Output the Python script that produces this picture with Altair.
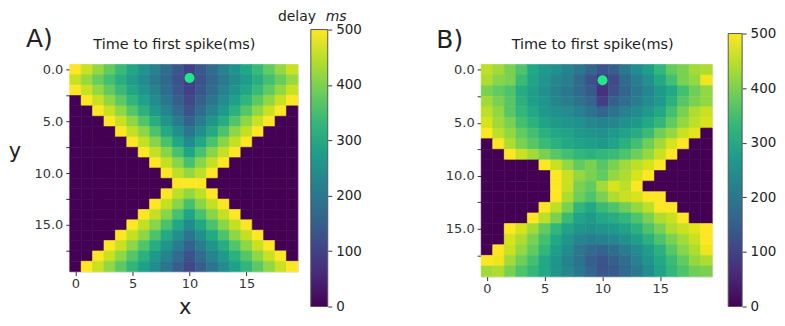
import altair as alt
import pandas as pd

# ---------------- data ----------------
A_rows = [
    [500, 460, 420, 379, 338, 298, 257, 216, 176, 135, 94, 135, 176, 216, 257, 298, 338, 379, 420, 460],
    [460, 423, 386, 349, 312, 275, 238, 201, 164, 127, 90, 127, 164, 201, 238, 275, 312, 349, 386, 423],
    [500, 460, 420, 379, 338, 298, 257, 216, 176, 135, 94, 135, 176, 216, 257, 298, 338, 379, 420, 460],
    [0, 500, 460, 417, 373, 328, 284, 240, 195, 151, 106, 151, 195, 240, 284, 328, 373, 417, 460, 500],
    [0, 0, 500, 460, 416, 368, 319, 271, 223, 175, 127, 175, 223, 271, 319, 368, 416, 460, 500, 0],
    [0, 0, 0, 500, 460, 415, 363, 311, 259, 208, 156, 208, 259, 311, 363, 415, 460, 500, 0, 0],
    [0, 0, 0, 0, 500, 455, 415, 359, 304, 248, 193, 248, 304, 359, 415, 455, 500, 0, 0, 0],
    [0, 0, 0, 0, 0, 500, 455, 410, 356, 297, 238, 297, 356, 410, 455, 500, 0, 0, 0, 0],
    [0, 0, 0, 0, 0, 0, 500, 455, 410, 354, 291, 354, 410, 455, 500, 0, 0, 0, 0, 0],
    [0, 0, 0, 0, 0, 0, 0, 500, 455, 410, 353, 410, 455, 500, 0, 0, 0, 0, 0, 0],
    [0, 0, 0, 0, 0, 0, 0, 0, 500, 450, 420, 450, 500, 0, 0, 0, 0, 0, 0, 0],
    [0, 0, 0, 0, 0, 0, 0, 0, 0, 500, 500, 500, 0, 0, 0, 0, 0, 0, 0, 0],
    [0, 0, 0, 0, 0, 0, 0, 0, 500, 450, 420, 450, 500, 0, 0, 0, 0, 0, 0, 0],
    [0, 0, 0, 0, 0, 0, 0, 500, 455, 410, 353, 410, 455, 500, 0, 0, 0, 0, 0, 0],
    [0, 0, 0, 0, 0, 0, 500, 455, 410, 354, 291, 354, 410, 455, 500, 0, 0, 0, 0, 0],
    [0, 0, 0, 0, 0, 500, 455, 410, 356, 297, 238, 297, 356, 410, 455, 500, 0, 0, 0, 0],
    [0, 0, 0, 0, 500, 455, 415, 359, 304, 248, 193, 248, 304, 359, 415, 455, 500, 0, 0, 0],
    [0, 0, 0, 500, 460, 415, 363, 311, 259, 208, 156, 208, 259, 311, 363, 415, 460, 500, 0, 0],
    [0, 0, 500, 460, 416, 368, 319, 271, 223, 175, 127, 175, 223, 271, 319, 368, 416, 460, 500, 0],
    [0, 500, 460, 417, 373, 328, 284, 240, 195, 151, 106, 151, 195, 240, 284, 328, 373, 417, 460, 500],
]

B_rows = [
    [450, 430, 400, 360, 300, 270, 250, 220, 200, 160, 130, 150, 200, 240, 280, 330, 380, 400, 430, 440],
    [440, 410, 400, 340, 290, 260, 230, 210, 170, 120, 80, 110, 170, 210, 250, 300, 350, 400, 420, 490],
    [400, 380, 360, 310, 280, 250, 220, 200, 170, 140, 70, 120, 160, 200, 230, 270, 300, 350, 390, 420],
    [430, 400, 370, 320, 280, 260, 230, 210, 190, 160, 90, 150, 180, 210, 240, 270, 320, 370, 400, 420],
    [450, 420, 370, 330, 300, 270, 250, 240, 220, 190, 160, 190, 220, 240, 270, 300, 350, 400, 440, 460],
    [470, 430, 400, 350, 320, 290, 270, 260, 250, 230, 220, 230, 250, 270, 300, 330, 380, 420, 450, 470],
    [500, 450, 420, 380, 350, 320, 300, 290, 270, 260, 250, 270, 290, 310, 340, 390, 420, 460, 480, 0],
    [0, 500, 440, 400, 370, 340, 320, 300, 290, 280, 270, 290, 320, 350, 390, 430, 470, 500, 0, 0],
    [0, 0, 500, 460, 430, 400, 370, 350, 330, 320, 330, 340, 360, 390, 420, 460, 500, 0, 0, 0],
    [0, 0, 0, 0, 0, 500, 460, 420, 380, 400, 370, 400, 430, 450, 470, 500, 0, 0, 0, 0],
    [0, 0, 0, 0, 0, 0, 500, 460, 420, 400, 380, 420, 440, 470, 500, 0, 0, 0, 0, 0],
    [0, 0, 0, 0, 0, 0, 500, 460, 400, 380, 430, 470, 450, 500, 0, 0, 0, 0, 0, 0],
    [0, 0, 0, 0, 0, 0, 500, 440, 390, 360, 400, 440, 460, 470, 500, 500, 0, 0, 0, 0],
    [0, 0, 0, 0, 0, 500, 450, 400, 330, 300, 340, 360, 390, 420, 450, 500, 500, 0, 0, 0],
    [0, 0, 0, 0, 500, 450, 400, 340, 290, 270, 300, 310, 330, 360, 400, 440, 460, 500, 0, 0],
    [0, 0, 500, 470, 430, 380, 330, 290, 260, 250, 260, 270, 290, 320, 360, 400, 440, 460, 480, 500],
    [0, 0, 470, 440, 400, 350, 300, 260, 230, 210, 220, 230, 250, 280, 320, 360, 400, 430, 460, 500],
    [0, 500, 460, 420, 380, 330, 280, 240, 200, 170, 160, 180, 210, 240, 280, 320, 370, 410, 440, 490],
    [500, 490, 430, 390, 350, 300, 260, 220, 190, 150, 130, 150, 180, 220, 260, 300, 340, 380, 420, 440],
    [430, 440, 400, 360, 330, 300, 260, 230, 200, 160, 130, 140, 170, 200, 240, 290, 330, 360, 390, 400],
]

x_ticks = [0, 5, 10, 15]
y_ticks = [0, 2.5, 5, 7.5, 10, 12.5, 15, 17.5]
cbar_ticks = [0, 100, 200, 300, 400, 500]
cbar_span = {"lo": [0], "hi": [500]}
dotA = {"x": [10], "y": [0.8]}
dotB = {"x": [10], "y": [1.0]}
panel_title = "Time to first spike(ms)"

viridis_stops = ["#440154", "#482878", "#3e4989", "#31688e", "#26828e",
                 "#1f9e89", "#35b779", "#6ece58", "#b5de2b", "#fde725"]

FONT = "DejaVu Sans"
DOT_COLOR = "#1fe88a"


def to_long(rows):
    recs = []
    for r, row in enumerate(rows):
        for c, v in enumerate(row):
            recs.append({"col": c, "row": r, "v": v})
    return pd.DataFrame(recs)


def label(text, x, y, size, **kw):
    return alt.Chart(pd.DataFrame({"t": [text]})).mark_text(
        fontSize=size, font=FONT, color="#222", **kw
    ).encode(text="t:N", x=alt.value(x), y=alt.value(y))


def panel(rows, dot, w, h, bx, by, blen, bthick, texts):
    xs = alt.Scale(domain=[-0.5, 19.5], nice=False, zero=False)
    ys = alt.Scale(domain=[-0.5, 19.5], nice=False, zero=False, reverse=True)
    cs = alt.Scale(scheme="viridis", domain=[0, 500])
    xaxis = alt.Axis(values=x_ticks, format="d", title=None, grid=False, domain=False,
                     labelFontSize=13, labelFont=FONT, labelColor="#333",
                     tickSize=4, tickColor="#333", labelPadding=2)
    yaxis = alt.Axis(values=y_ticks, title=None, grid=False, domain=False,
                     labelExpr="datum.value % 5 == 0 ? format(datum.value, '.1f') : ''",
                     labelFontSize=13, labelFont=FONT, labelColor="#333",
                     tickSize=4, tickColor="#333", labelPadding=3)
    heat = alt.Chart(to_long(rows)).transform_calculate(
        x0="datum.col - 0.5", x1="datum.col + 0.5",
        y0="datum.row - 0.5", y1="datum.row + 0.5",
        v2="datum.v",
    ).mark_rect(strokeWidth=0.6).encode(
        x=alt.X("x0:Q", scale=xs, axis=xaxis),
        x2="x1:Q",
        y=alt.Y("y0:Q", scale=ys, axis=yaxis),
        y2="y1:Q",
        color=alt.Color("v:Q", scale=cs, legend=None),
        stroke=alt.Stroke("v2:Q", scale=cs, legend=None),
    )
    pt = alt.Chart(pd.DataFrame(dot)).mark_circle(size=100, color=DOT_COLOR, opacity=1).encode(
        x=alt.X("x:Q", scale=xs, axis=xaxis),
        y=alt.Y("y:Q", scale=ys, axis=yaxis),
    )
    grad = alt.LinearGradient(
        gradient="linear", x1=0, y1=1, x2=0, y2=0,
        stops=[alt.GradientStop(color=c, offset=i / (len(viridis_stops) - 1))
               for i, c in enumerate(viridis_stops)],
    )
    cbar = alt.Chart(pd.DataFrame(cbar_span)).mark_rect(
        color=grad, stroke="#555", strokeWidth=1
    ).encode(
        x=alt.value(bx), x2=alt.value(bx + bthick),
        y=alt.Y("lo:Q", scale=alt.Scale(domain=[0, 500], range=[by + blen, by], nice=False, zero=False),
                axis=alt.Axis(orient="right", offset=bx + bthick - w, values=cbar_ticks, title=None,
                              grid=False, domain=False, labelFontSize=13.5, labelFont=FONT,
                              labelColor="#222", tickSize=4, tickColor="#333", labelPadding=4,
                              labelFlush=False)),
        y2="hi:Q",
    )
    inner = alt.layer(heat, pt)
    return alt.layer(inner, cbar, *texts).resolve_scale(y="independent").properties(width=w, height=h)


panelA = panel(
    A_rows, dotA, 229, 208, 242, -35, 278, 17,
    [
        label(panel_title, 105, -19, 14.5),
        label("A)", -44, -25, 25, align="left"),
        label("delay", 209, -48, 14, align="left"),
        label("ms", 257, -48, 14, align="left", fontStyle="italic"),
        label("y", -55, 88, 21),
        label("x", 116, 245, 21),
    ],
)

panelB = panel(
    B_rows, dotB, 232, 213, 248, -31, 274, 14,
    [
        label(panel_title, 112, -19, 14.5),
        label("B)", -45, -24, 25, align="left"),
    ],
)

chart = alt.hconcat(panelA, panelB, spacing=184, bounds="flush").resolve_scale(
    color="independent", stroke="independent", x="independent", y="independent"
).properties(
    padding={"left": 0, "top": 0, "right": 0, "bottom": 0}
).configure_view(stroke="#444", strokeWidth=1).configure(background="white")

chart.save("out.html", embed_options={"renderer": "svg", "actions": False})
